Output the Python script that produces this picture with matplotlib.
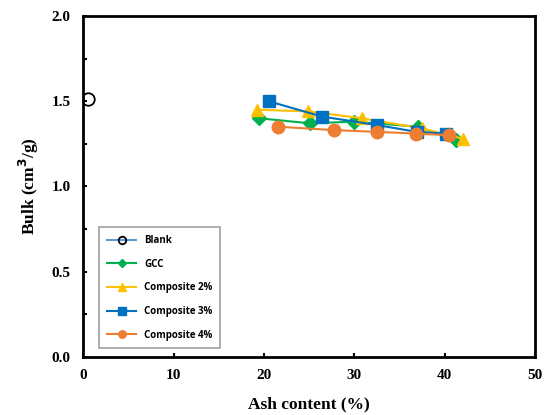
import matplotlib.pyplot as plt
from matplotlib.ticker import MultipleLocator

# Data
blank_x = [0.5]
blank_y = [1.51]
gcc_x = [19.4, 25.1, 30.0, 37.1, 41.3]
gcc_y = [1.40, 1.37, 1.38, 1.35, 1.27]
c2_x = [19.2, 24.9, 30.8, 37.5, 42.0]
c2_y = [1.45, 1.44, 1.40, 1.34, 1.28]
c3_x = [20.5, 26.4, 32.5, 36.9, 40.2]
c3_y = [1.50, 1.41, 1.36, 1.32, 1.31]
c4_x = [21.6, 27.8, 32.5, 36.8, 40.5]
c4_y = [1.35, 1.33, 1.32, 1.31, 1.30]

fig = plt.figure(figsize=(5.5, 4.15), dpi=100)
ax = fig.add_axes([0.1515, 0.1405, 0.8212, 0.8209])

ax.plot(blank_x, blank_y, '-o', color='#5B9BD5', mfc='none', mec='black',
        mew=1.3, ms=9, label='Blank', zorder=3)
ax.plot(gcc_x, gcc_y, '-D', color='#00B050', ms=7, lw=1.5, label='GCC')
ax.plot(c2_x, c2_y, '-^', color='#FFC000', ms=9, lw=1.5, label='Composite 2%')
ax.plot(c3_x, c3_y, '-s', color='#0070C0', ms=9, lw=1.5, label='Composite 3%')
ax.plot(c4_x, c4_y, '-o', color='#ED7D31', ms=9, lw=1.5, label='Composite 4%')

ax.set_xlim(0, 50)
ax.set_ylim(0, 2.0)
ax.xaxis.set_major_locator(MultipleLocator(10))
ax.yaxis.set_major_locator(MultipleLocator(0.5))
ax.yaxis.set_minor_locator(MultipleLocator(0.25))
ax.tick_params(which='both', direction='in', width=1.5, length=3, pad=9)
for s in ax.spines.values():
    s.set_linewidth(2)

serif = 'Liberation Serif'
for lab in ax.get_xticklabels() + ax.get_yticklabels():
    lab.set_fontfamily(serif)
    lab.set_fontweight('bold')
    lab.set_fontsize(11)
ax.yaxis.set_major_formatter(plt.FuncFormatter(lambda v, p: f'{v:.1f}'))
ax.set_xlabel('Ash content (%)', fontfamily=serif, fontweight='bold', fontsize=12.5, labelpad=10)
ax.set_ylabel('Bulk (cm$^\\mathbf{3}$/g)', fontfamily=serif, fontweight='bold', fontsize=12.5, labelpad=8)

leg = ax.legend(loc='lower left', bbox_to_anchor=(0.025, 0.01), prop={'family': 'Open Sans', 'weight': 'bold', 'size': 7},
                frameon=True, fancybox=False, edgecolor='#888888', labelspacing=1.3,
                handlelength=3, markerscale=0.6, borderpad=0.8)
leg.get_frame().set_linewidth(1.2)

fig.savefig('out.png', dpi=100)
